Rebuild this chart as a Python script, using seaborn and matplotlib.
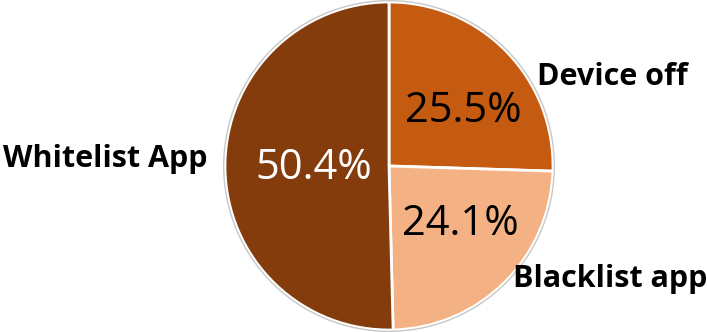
import numpy as np
import matplotlib
matplotlib.use("Agg")
import matplotlib.pyplot as plt
import seaborn as sns

categories = ["Device off", "Blacklist app", "Whitelist App"]
shares = [25.5, 24.1, 50.4]
slice_colors = ["#C55A11", "#F4B183", "#843C0C"]
pct_colors = ["black", "black", "white"]

sns.set_theme(style="white")
plt.rcParams["font.family"] = ["Open Sans", "DejaVu Sans"]

fig = plt.figure(figsize=(7.07, 3.32), dpi=100)
ax = fig.add_axes([0, 0, 1, 1])

R = 1.0
wedges, _, autotexts = ax.pie(
    shares,
    colors=slice_colors,
    startangle=90,
    counterclock=False,
    radius=R,
    autopct="%1.1f%%",
    pctdistance=0.6,
    wedgeprops=dict(edgecolor="white", linewidth=2),
    textprops=dict(fontsize=30),
)

# thin grey rim around the whole pie
rim = plt.Circle((0, 0), R + 0.008, fill=False, edgecolor="#C8C8C8", linewidth=1)
ax.add_patch(rim)

# radial position and angular nudge for each percentage label
pct_radius = [0.562, 0.559, 0.457]
pct_nudge = [-7.5, 6, 1]
for w, t, c, r, d in zip(wedges, autotexts, pct_colors, pct_radius, pct_nudge):
    mid = np.deg2rad((w.theta1 + w.theta2) / 2 + d)
    t.set_position((r * np.cos(mid), r * np.sin(mid)))
    t.set_color(c)
    t.set_ha("center")
    t.set_va("center")

# category names placed outside the pie (x centre, baseline y)
name_pos = {
    "Device off": (1.36, 0.494),
    "Blacklist app": (1.35, -0.738),
    "Whitelist App": (-1.73, -0.006),
}
for name in categories:
    x, y = name_pos[name]
    ax.text(x, y, name, ha="center", va="baseline", fontsize=22,
            fontweight="bold", color="black")

scale = 164.0
cx, cy = 389.0, 166.0
ax.set_xlim(-cx / scale, (707 - cx) / scale)
ax.set_ylim(-(332 - cy) / scale, cy / scale)
ax.set_aspect("equal")
ax.axis("off")

fig.savefig("out.png", dpi=100, facecolor="white")
